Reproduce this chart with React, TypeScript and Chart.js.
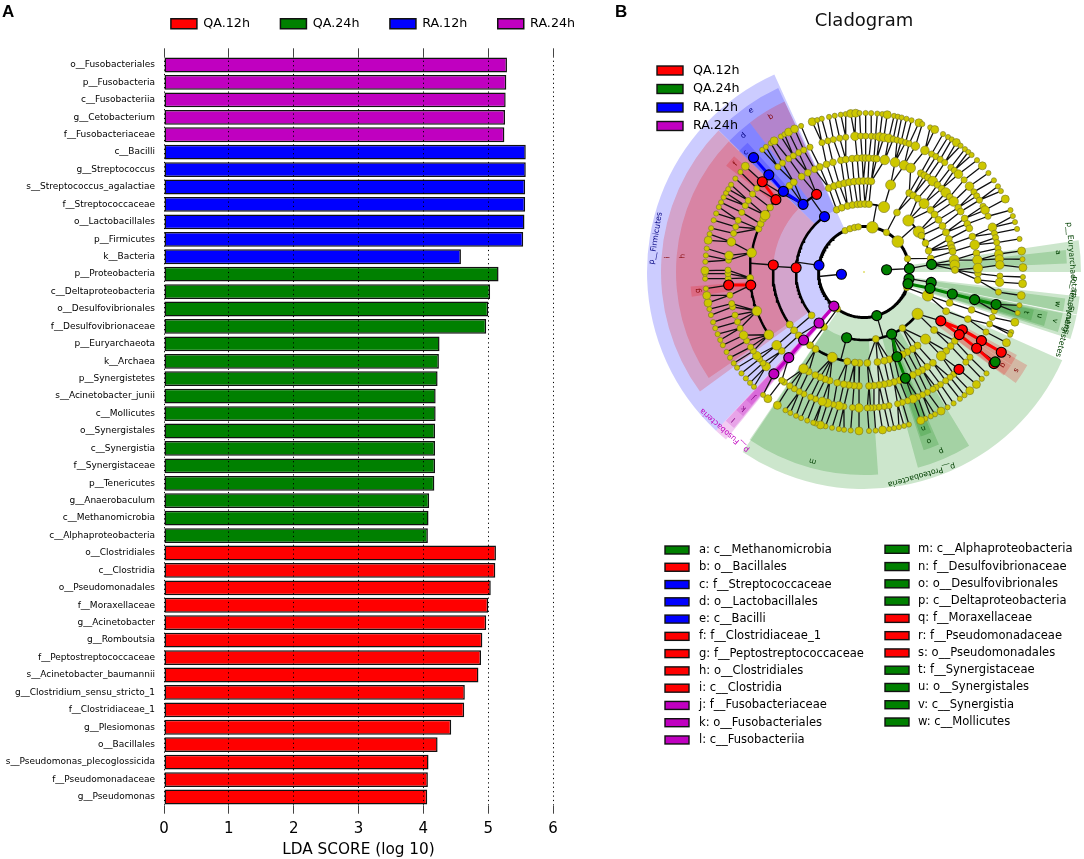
import React, { useEffect, useRef } from "react";
import { Chart, registerables } from "chart.js";

Chart.register(...registerables);

const FONT = "'DejaVu Sans'";
const RED = "#ff0000";
const GREEN = "#008000";
const BLUE = "#0000ff";
const MAG = "#c000c0";

/* ---------- Panel A values ---------- */
const ra24Labels = ["o__Fusobacteriales", "p__Fusobacteria", "c__Fusobacteriia", "g__Cetobacterium", "f__Fusobacteriaceae"];
const ra24Values = [5.29, 5.28, 5.27, 5.26, 5.25];
const ra12Labels = ["c__Bacilli", "g__Streptococcus", "s__Streptococcus_agalactiae", "f__Streptococcaceae", "o__Lactobacillales", "p__Firmicutes", "k__Bacteria"];
const ra12Values = [5.58, 5.58, 5.57, 5.57, 5.56, 5.54, 4.58];
const qa24Labels = ["p__Proteobacteria", "c__Deltaproteobacteria", "o__Desulfovibrionales", "f__Desulfovibrionaceae", "p__Euryarchaeota", "k__Archaea", "p__Synergistetes", "s__Acinetobacter_junii", "c__Mollicutes", "o__Synergistales", "c__Synergistia", "f__Synergistaceae", "p__Tenericutes", "g__Anaerobaculum", "c__Methanomicrobia", "c__Alphaproteobacteria"];
const qa24Values = [5.16, 5.03, 5.0, 4.97, 4.25, 4.24, 4.22, 4.19, 4.19, 4.18, 4.18, 4.18, 4.17, 4.09, 4.08, 4.07];
const qa12Labels = ["o__Clostridiales", "c__Clostridia", "o__Pseudomonadales", "f__Moraxellaceae", "g__Acinetobacter", "g__Romboutsia", "f__Peptostreptococcaceae", "s__Acinetobacter_baumannii", "g__Clostridium_sensu_stricto_1", "f__Clostridiaceae_1", "g__Plesiomonas", "o__Bacillales", "s__Pseudomonas_plecoglossicida", "f__Pseudomonadaceae", "g__Pseudomonas"];
const qa12Values = [5.12, 5.11, 5.04, 5.0, 4.97, 4.91, 4.89, 4.85, 4.64, 4.63, 4.43, 4.22, 4.08, 4.07, 4.06];

/* ---------- Panel B key ---------- */
const classNames = ["QA.12h", "QA.24h", "RA.12h", "RA.24h"];
const classColors = [RED, GREEN, BLUE, MAG];
const keyColumn1: [string, string][] = [
  ["a: c__Methanomicrobia", GREEN], ["b: o__Bacillales", RED], ["c: f__Streptococcaceae", BLUE], ["d: o__Lactobacillales", BLUE],
  ["e: c__Bacilli", BLUE], ["f: f__Clostridiaceae_1", RED], ["g: f__Peptostreptococcaceae", RED], ["h: o__Clostridiales", RED],
  ["i: c__Clostridia", RED], ["j: f__Fusobacteriaceae", MAG], ["k: o__Fusobacteriales", MAG], ["l: c__Fusobacteriia", MAG],
];
const keyColumn2: [string, string][] = [
  ["m: c__Alphaproteobacteria", GREEN], ["n: f__Desulfovibrionaceae", GREEN], ["o: o__Desulfovibrionales", GREEN], ["p: c__Deltaproteobacteria", GREEN],
  ["q: f__Moraxellaceae", RED], ["r: f__Pseudomonadaceae", RED], ["s: o__Pseudomonadales", RED], ["t: f__Synergistaceae", GREEN],
  ["u: o__Synergistales", GREEN], ["v: c__Synergistia", GREEN], ["w: c__Mollicutes", GREEN],
];

/* ---------- Cladogram: ring radius per taxonomic level (scale units) ---------- */
const ringRadius = [0, 22.7, 45.5, 68, 91, 114, 136, 159];
const wedgeOuter = { phylum: 217, class: 203, order: 188, family: 174 };

/* [from deg, to deg, inner ring level, colour] */
const phylumWedges: [number, number, number, string][] = [
  [133, 245.6, 2, "0,0,255"], [129.5, 133, 2, "192,0,192"], [24, 124, 2, "0,128,0"],
  [351.6, 360, 2, "0,128,0"], [6.5, 11.3, 2, "0,128,0"], [11.5, 18, 2, "0,128,0"],
];
const classWedges: [number, number, number, string][] = [
  [353.8, 357.6, 3, "0,128,0"], [224.3, 245, 3, "0,0,255"], [143.9, 224.2, 3, "235,0,0"], [129.8, 132.9, 3, "192,0,192"],
  [86, 124.3, 3, "0,128,0"], [58.8, 74.6, 3, "0,128,0"], [11.7, 17.2, 3, "0,128,0"], [7.5, 11.2, 3, "0,128,0"],
];
const orderWedges: [number, number, number, string][] = [
  [232.6, 245, 4, "235,0,0"], [224.2, 232.6, 4, "0,0,255"], [145.7, 224, 4, "235,0,0"], [130, 132.8, 4, "192,0,192"],
  [66.5, 71.5, 4, "0,128,0"], [29.7, 36.2, 4, "235,0,0"], [12.2, 16.7, 4, "0,128,0"],
];
const familyWedges: [number, number, number, string][] = [
  [224, 228, 5, "0,0,255"], [217.6, 221.7, 5, "235,0,0"], [171.8, 175.2, 5, "235,0,0"], [130.2, 132.6, 5, "192,0,192"],
  [67.2, 71, 5, "0,128,0"], [32.4, 36.5, 5, "235,0,0"], [28.5, 32.2, 5, "235,0,0"], [12.5, 16.2, 5, "0,128,0"],
];

/* [text, angle, radius, colour] */
const wedgeLetters: [string, number, number, string][] = [
  ["a", 354.2, 195, "#004000"], ["b", 239, 181, "#800000"], ["c", 225.3, 168, "#000080"], ["d", 228.5, 182, "#000080"],
  ["e", 235, 197, "#000080"], ["f", 220, 168, "#800000"], ["g", 173.6, 167, "#800000"], ["h", 185, 182, "#800000"],
  ["i", 184.2, 197, "#800000"], ["j", 131.4, 167, "#800080"], ["k", 131.4, 182, "#800080"], ["l", 131.4, 197, "#800080"],
  ["m", 105.2, 196, "#004000"], ["n", 69.2, 167, "#004000"], ["o", 69, 181, "#004000"], ["p", 66.7, 195, "#004000"],
  ["q", 33.9, 167, "#800000"], ["r", 30, 167, "#800000"], ["s", 32.9, 181, "#800000"], ["t", 14, 167, "#004000"],
  ["u", 14, 181, "#004000"], ["v", 14.4, 197, "#004000"], ["w", 9.4, 196, "#004000"],
];
const phylumLabels: [string, number, number, string][] = [
  ["p__Firmicutes", 189.2, 211, "#000080"], ["p__Fusobacteria", 131.4, 211, MAG], ["p__Proteobacteria", 74.2, 211, "#004000"],
  ["p__Euryarchaeota", 355.8, 208, "#004000"], ["p__Tenericutes", 9, 209, "#004000"], ["p__Synergistetes", 14.7, 209, "#004000"],
];

/* Yellow (non-discriminant) clades, by level: angles in degrees */
const ring2 = [20, 125.8, 245.5, 252, 258, 262.8, 280.6, 299.6, 318, 343];
const ring2Big = [280.6, 318];
const ring3 = [20.2, 38, 55.6, 80, 126, 140.4, 246.3, 250.9, 256, 260.3, 264.5, 267.2, 270.8, 274.2, 287.1, 299, 310.8, 323.7, 327.6, 334.8, 341.9, 348.4];
const ring3Big = [20.2, 38, 287.1, 310.8, 323.7];
const ring4 = [19.8, 25.5, 39.6, 47.5, 54, 57.8, 61.6, 64.9, 70.6, 73.9, 77.2, 81.5, 87.9, 92.8, 95.7, 100.6, 110.4, 122.2, 126.3, 135.8, 140.2, 144.7, 247.3, 250.8, 254.2, 257.5, 260.6, 263.7, 266.9, 269.6, 272.5, 274.6, 287, 299.8, 302.7, 306.2, 311.3, 317, 320.8, 325, 329.6, 334.2, 338.8, 342.4, 344.8, 347, 352.4, 355.6, 358.7];
const ring4Big = [47.5, 110.4, 287, 311.3, 352.4, 355.6];
const ring5 = [0.8, 4, 19.4, 24.4, 37.2, 40.5, 43.8, 47.4, 52.8, 56.3, 59.3, 61.7, 64.6, 71.9, 74.7, 77.3, 79.8, 82.4, 85, 87.5, 92.5, 95, 97.6, 100.2, 103.6, 107.5, 109.9, 112.6, 115.3, 119, 122, 136.2, 140, 146.6, 160, 177, 189.7, 202.3, 205, 207.8, 209.9, 214.5, 223.6, 229.2, 232, 236.8, 240.5, 244.3, 247.2, 250.8, 254.2, 258.3, 260.8, 264, 266.6, 269.1, 270.8, 272.5, 275, 276.4, 280.5, 285.8, 290.6, 294.2, 299.9, 301.9, 304, 307.1, 310.1, 313, 315.8, 318.8, 321.8, 325.7, 328, 332, 335, 337.5, 341.9, 346.2, 350.5, 354, 358];
const ring5Big = [47.4, 122, 140, 146.6, 160, 189.7, 209.9, 280.5, 285.8, 290.6, 294.2, 307.1, 315.8, 321.8, 346.2, 354, 358];
const ring6 = [1.7, 4.3, 8.5, 16.6, 19.5, 22.5, 26.2, 38.8, 41.5, 48.7, 50.7, 53.1, 55.8, 58, 59.6, 62.2, 64.5, 66.7, 68.9, 71.3, 73.6, 75.7, 79.4, 81.5, 83.7, 85.8, 87.2, 88.6, 92.1, 94.9, 98.5, 100.6, 103, 105.6, 107.9, 110.9, 113.1, 116.2, 118.4, 120.8, 123.1, 125.9, 127.2, 136, 138, 140.2, 142, 144.5, 146.5, 149.6, 152.3, 155.6, 158.5, 161.5, 165.1, 166.6, 170.2, 177.2, 179.3, 180.8, 185, 187, 192.8, 196.5, 199.4, 202.3, 206, 209.2, 211.7, 215, 218, 230.7, 233.2, 236.4, 238.7, 241.3, 243.7, 246.6, 252, 254.6, 257, 259.7, 262.3, 266.2, 268.6, 270.7, 273.1, 274.9, 276.6, 278.4, 280.5, 282.4, 284.1, 285.9, 287.8, 289.4, 292.2, 296.6, 299.8, 301.9, 304.1, 306.4, 309.7, 311.6, 314, 317.4, 320.9, 323.9, 326, 328.1, 331.1, 332.9, 335.8, 340.8, 343.5, 345.4, 347.5, 350, 352.4, 354.5, 357];
const ring6Big = [4.3, 68.9, 92.1, 100.6, 105.6, 107.9, 136, 142, 152.3, 187, 192.8, 266.2, 276.6, 278.4, 280.5, 292.2, 296.6, 314, 320.9, 332.9, 340.8, 352.4, 354.5, 357];
const ring7 = [1.8, 4.2, 8.5, 12.1, 14.9, 18.4, 22.2, 23.2, 26.4, 39.6, 42.2, 45, 48.3, 50.8, 52.9, 55.7, 58.3, 61, 63.5, 65.2, 67.3, 69.1, 73.6, 75.4, 77.3, 79.1, 80.9, 83.3, 85.8, 88.2, 91.8, 94.8, 97.2, 99.1, 101.6, 104, 105.9, 107.7, 108.6, 110.9, 113.3, 115.3, 117.6, 119.6, 123, 127.2, 129.4, 133.8, 135.8, 138, 140.4, 143, 145, 147.4, 149.8, 152.6, 154.7, 157, 159.3, 161.6, 164.3, 166.5, 168.8, 171.5, 174, 177.6, 179.4, 180.5, 183.7, 186, 188.5, 191.5, 193.8, 196, 199, 201.6, 204.1, 206, 208, 209.8, 211.4, 213.3, 216, 219, 221.7, 230.2, 231.9, 234.1, 235.6, 238.5, 240, 241.7, 244.1, 246.7, 251, 252.9, 254.6, 257.3, 259.4, 261.6, 263.4, 265.2, 267, 268.4, 270.6, 272.6, 274.8, 276.6, 278.4, 280.9, 282.3, 283.7, 285.5, 287.4, 290.2, 291.5, 294.6, 296.4, 299.8, 301.9, 303.5, 305.5, 307.4, 309.4, 311, 312.6, 315.3, 318.1, 321.5, 324.8, 327.4, 329.4, 332.7, 337.1, 339.4, 341.7, 344.3, 348, 352.4, 355.4, 358.4];
const ring7Big = [4.2, 8.5, 18.4, 26.4, 45, 48.3, 61, 69.1, 83.3, 91.8, 105.9, 123, 127.2, 168.8, 171.5, 180.5, 191.5, 221.7, 235.6, 241.7, 244.1, 251, 265.2, 267, 278.4, 290.2, 296.4, 305.5, 318.1, 332.7, 352.4, 358.4];

/* Coloured clades: [level, angle] */
const qa12Nodes: [number, number][] = [[3, 183.6], [4, 184.4], [4, 238.6], [5, 219.4], [6, 221.6], [5, 173.4], [6, 174.5], [4, 32.5], [5, 30.4], [6, 30.3], [7, 30.3], [5, 33.3], [6, 34.1], [7, 35.2], [6, 45.7]];
const qa24Nodes: [number, number][] = [[1, 354.3], [2, 355.7], [2, 8.5], [2, 15], [2, 73.7], [3, 353.6], [3, 8.8], [3, 13.9], [4, 14], [5, 14], [6, 13.8], [3, 66], [3, 104.8], [4, 68.7], [5, 68.7], [7, 34.4]];
const ra12Nodes: [number, number][] = [[1, 174.3], [2, 188.4], [3, 234.5], [4, 228], [5, 225], [6, 225.6], [7, 226]];
const ra24Nodes: [number, number][] = [[2, 131.4], [3, 131.4], [4, 131.6], [5, 131.3], [6, 131.5]];

/* Coloured branches */
const qa12Paths: [number, number][][] = [
  [[5, 219.4], [6, 221.6]], [[5, 173.4], [6, 174.5]],
  [[4, 32.5], [5, 30.4], [6, 30.3], [7, 30.3]], [[4, 32.5], [5, 33.3], [6, 34.1], [7, 35.2]],
];
const qa24Paths: [number, number][][] = [
  [[2, 15], [3, 13.9], [4, 14], [5, 14], [6, 13.8]], [[3, 66], [4, 68.7], [5, 68.7]],
];
const ra12Paths: [number, number][][] = [[[4, 228], [5, 225], [6, 225.6], [7, 226]]];
const ra24Paths: [number, number][][] = [[[2, 131.4], [3, 131.4], [4, 131.6], [5, 131.3], [6, 131.5]]];

/* Thick sibling arcs: [level, from, to, width, parent angle] */
const siblingArcs: [number, number, number, number, number][] = [
  [2, 17, 343, 3, 174.3],
  [3, 140.4, 234.5, 2.6, 188.4],
  [3, 38, 104.8, 2.6, 73.7],
  [3, 246.3, 287.1, 1.8, 280.6],
  [3, 310.8, 341.9, 1.8, 318],
  [4, 144.7, 184.4, 2.6, 183.6],
  [4, 92.8, 122.2, 2.6, 104.8],
  [4, 228, 238.6, 2.4, 234.5],
  [5, 146.6, 219.4, 2.4, 184.4],
];

const extraEdges: [number, number, number, number][] = [[1, 354.3, 2, 355.7], [2, 355.7, 3, 353.6]];

const pt = (level: number, angle: number) => {
  const r = ringRadius[level];
  const a = (angle * Math.PI) / 180;
  return { x: r * Math.cos(a), y: r * Math.sin(a) };
};
const GAP = { x: NaN, y: NaN };

const colouredNodes = [...qa12Nodes, ...qa24Nodes, ...ra12Nodes, ...ra24Nodes];
const yellowByLevel: Record<number, number[]> = { 2: ring2, 3: ring3, 4: ring4, 5: ring5, 6: ring6, 7: ring7 };
const bigByLevel: Record<number, number[]> = { 2: ring2Big, 3: ring3Big, 4: ring4Big, 5: ring5Big, 6: ring6Big, 7: ring7Big };
const smallRadius: Record<number, number> = { 2: 3.2, 3: 3.4, 4: 3.5, 5: 3.4, 6: 3.1, 7: 2.6 };
const bigRadius: Record<number, number> = { 2: 5.8, 3: 5.6, 4: 5, 5: 4.8, 6: 4.3, 7: 4 };

const anglesAt = (level: number) => [...(yellowByLevel[level] || []), ...colouredNodes.filter((n) => n[0] === level).map((n) => n[1])];
const angDist = (a: number, b: number) => {
  const d = Math.abs(a - b) % 360;
  return d > 180 ? 360 - d : d;
};

function buildEdges() {
  const out: { x: number; y: number }[] = [];
  for (let level = 3; level <= 7; level++) {
    const parents = anglesAt(level - 1);
    for (const a of anglesAt(level)) {
      if (siblingArcs.some((s) => s[0] === level && a >= s[1] && a <= s[2])) continue;
      let best = parents[0];
      for (const p of parents) if (angDist(p, a) < angDist(best, a)) best = p;
      out.push(pt(level - 1, best), pt(level, a), GAP);
    }
  }
  for (const e of extraEdges) out.push(pt(e[0], e[1]), pt(e[2], e[3]), GAP);
  for (const s of siblingArcs) out.push(pt(s[0] - 1, s[4]), pt(s[0], s[4]), GAP);
  return out;
}
function arcPoints(level: number, from: number, to: number) {
  const pts = [];
  for (let a = from; a < to; a += 1.5) pts.push(pt(level, a));
  pts.push(pt(level, to));
  return pts;
}
const pathPoints = (paths: [number, number][][]) => paths.flatMap((p) => [...p.map((n) => pt(n[0], n[1])), GAP]);
const lineDs = (data: any[], color: string, width: number, order: number) => ({
  type: "scatter" as const, data, showLine: true, borderColor: color, borderWidth: width, pointRadius: 0,
  spanGaps: false, order, clip: false, borderCapStyle: "round" as const, tension: 0,
});
const markerDs = (nodes: [number, number][], color: string, order: number) => ({
  type: "scatter" as const, data: nodes.map((n) => pt(n[0], n[1])), pointRadius: 5, pointBackgroundColor: color,
  pointBorderColor: "#000", pointBorderWidth: 1.1, order, clip: false, showLine: false,
});

const wedgePlugin = {
  id: "wedges",
  beforeDatasetsDraw(chart: any) {
    const { ctx, scales } = chart;
    const cx = scales.x.getPixelForValue(0);
    const cy = scales.y.getPixelForValue(0);
    const u = (v: number) => scales.x.getPixelForValue(v) - cx;
    const groups: [[number, number, number, string][], number][] = [
      [phylumWedges, wedgeOuter.phylum], [classWedges, wedgeOuter.class], [orderWedges, wedgeOuter.order], [familyWedges, wedgeOuter.family],
    ];
    for (const [list, outer] of groups) {
      for (const [from, to, level, rgb] of list) {
        ctx.beginPath();
        ctx.arc(cx, cy, u(outer), (from * Math.PI) / 180, (to * Math.PI) / 180);
        ctx.arc(cx, cy, u(ringRadius[level]), (to * Math.PI) / 180, (from * Math.PI) / 180, true);
        ctx.closePath();
        ctx.fillStyle = `rgba(${rgb},0.2)`;
        ctx.fill();
      }
    }
    ctx.textAlign = "center";
    ctx.textBaseline = "middle";
    const put = (list: [string, number, number, string][], size: number) => {
      for (const [txt, ang, r, col] of list) {
        const a = (ang * Math.PI) / 180;
        ctx.save();
        ctx.translate(cx + u(r) * Math.cos(a), cy + u(r) * Math.sin(a));
        ctx.rotate(a + Math.PI / 2);
        ctx.font = `${size}px ${FONT}`;
        ctx.fillStyle = col;
        ctx.fillText(txt, 0, 0);
        ctx.restore();
      }
    };
    put(wedgeLetters, 7.5);
    put(phylumLabels, 7.8);
  },
  afterDatasetsDraw(chart: any) {
    const { ctx, canvas } = chart;
    const left = canvas.offsetLeft;
    ctx.textBaseline = "middle";
    ctx.textAlign = "left";
    const swatch = (x: number, y: number, w: number, h: number, color: string) => {
      ctx.fillStyle = color;
      ctx.strokeStyle = "#111";
      ctx.lineWidth = 1.4;
      ctx.fillRect(x, y - h / 2, w, h);
      ctx.strokeRect(x, y - h / 2, w, h);
    };
    classNames.forEach((name, i) => {
      const y = 70.5 + i * 18.5;
      swatch(657 - left, y, 26, 9, classColors[i]);
      ctx.font = `12.7px ${FONT}`;
      ctx.fillStyle = "#000";
      ctx.fillText(name, 693 - left, y);
    });
    const column = (items: [string, string][], swX: number, txtX: number, y0: number) => {
      items.forEach(([text, color], i) => {
        const y = y0 + i * 17.27;
        swatch(swX - left, y, 24, 8, color);
        ctx.font = `11.55px ${FONT}`;
        ctx.fillStyle = "#000";
        ctx.fillText(text, txtX - left, y);
      });
    };
    column(keyColumn1, 665, 699, 550);
    column(keyColumn2, 885, 918, 549.3);
  },
};

const panelLetters = {
  id: "letters",
  afterDraw(chart: any) {
    const { ctx } = chart;
    ctx.save();
    ctx.font = `bold 17px 'Liberation Sans'`;
    ctx.fillStyle = "#000";
    ctx.textAlign = "left";
    ctx.textBaseline = "middle";
    ctx.fillText("A", 2, 12);
    ctx.fillText("B", 615, 12);
    ctx.restore();
  },
};

export default function App() {
  const aRef = useRef<HTMLCanvasElement>(null);
  const bRef = useRef<HTMLCanvasElement>(null);

  useEffect(() => {
    const labels = [...ra24Labels, ...ra12Labels, ...qa24Labels, ...qa12Labels];
    const fill = (before: number, vals: number[]) => {
      const arr: (number | null)[] = new Array(labels.length).fill(null);
      vals.forEach((v, i) => (arr[before + i] = v));
      return arr;
    };
    const n1 = ra24Values.length;
    const n2 = n1 + ra12Values.length;
    const n3 = n2 + qa24Values.length;
    const bar = (label: string, color: string, data: (number | null)[]) => ({
      label, data, backgroundColor: color, borderColor: "#111", borderWidth: 1.5, borderSkipped: false,
      grouped: false, barPercentage: 0.85, categoryPercentage: 1,
    });
    const chartA = new Chart(aRef.current!, {
      type: "bar",
      data: {
        labels,
        datasets: [
          bar("QA.12h", RED, fill(n3, qa12Values)),
          bar("QA.24h", GREEN, fill(n2, qa24Values)),
          bar("RA.12h", BLUE, fill(n1, ra12Values)),
          bar("RA.24h", MAG, fill(0, ra24Values)),
        ],
      },
      options: {
        indexAxis: "y",
        responsive: false,
        animation: false,
        layout: { autoPadding: false, padding: { left: 0, top: -13, right: 0, bottom: 0 } },
        plugins: {
          tooltip: { enabled: false },
          title: { display: false },
          legend: {
            display: true,
            position: "top",
            maxHeight: 50,
            labels: { boxWidth: 26, boxHeight: 10, padding: 30.5, color: "#000", font: { family: FONT, size: 12.7 } },
          },
        },
        scales: {
          x: {
            type: "linear", min: 0, max: 6, position: "bottom",
            grid: { display: true, color: "#000", lineWidth: 1, z: 1, tickColor: "#444", tickLength: 8, tickBorderDash: [] } as any,
            border: { display: false, dash: [1.2, 3.2] },
            ticks: { stepSize: 1, color: "#000", padding: 6, font: { family: FONT, size: 15 }, maxRotation: 0 },
            title: { display: true, text: "LDA SCORE (log 10)", color: "#000", font: { family: FONT, size: 15.3 }, padding: { top: 2, bottom: 0 } },
            afterFit: (s: any) => { s.height = 53.3; },
          },
          x2: {
            type: "linear", min: 0, max: 6, position: "top",
            grid: { display: true, drawOnChartArea: false, tickColor: "#444", tickLength: 8 },
            border: { display: false },
            ticks: { stepSize: 1, display: false },
            afterFit: (s: any) => { s.height = 19.3; },
          },
          y: {
            type: "category", offset: true, position: "left",
            grid: { display: false },
            border: { display: false },
            ticks: { autoSkip: false, color: "#000", padding: 1, font: { family: FONT, size: 9 } },
            afterFit: (s: any) => { s.width = 164; },
          },
          yR: {
            type: "category", position: "right", display: true,
            grid: { display: false }, border: { display: false }, ticks: { display: false },
            afterFit: (s: any) => { s.width = 193; },
          },
        },
      } as any,
      plugins: [panelLetters],
    });

    const yellow = [2, 3, 4, 5, 6, 7].flatMap((level) =>
      yellowByLevel[level].map((a) => ({ ...pt(level, a), big: bigByLevel[level].includes(a), level })),
    );
    const chartB = new Chart(bRef.current!, {
      type: "scatter",
      data: {
        datasets: [
          lineDs(buildEdges(), "#111", 1.3, 9),
          ...siblingArcs.map((s) => lineDs(arcPoints(s[0], s[1], s[2]), "#000", s[3], 8)),
          lineDs(pathPoints(qa12Paths), RED, 3, 7),
          lineDs(pathPoints(qa24Paths), GREEN, 3, 7),
          lineDs(pathPoints(ra12Paths), BLUE, 3, 7),
          lineDs(pathPoints(ra24Paths), MAG, 3.4, 7),
          {
            type: "scatter" as const,
            data: [{ x: 0, y: 0 }],
            pointRadius: 0.8, pointBackgroundColor: "#cbc600", pointBorderWidth: 0, order: 6,
          },
          {
            type: "scatter" as const,
            data: yellow,
            pointRadius: yellow.map((p) => (p.big ? bigRadius[p.level] : smallRadius[p.level])),
            pointBackgroundColor: "#cdc700",
            pointBorderColor: "#77762a",
            pointBorderWidth: 0.6,
            order: 5, clip: false,
          },
          markerDs(qa12Nodes, RED, 3),
          markerDs(qa24Nodes, GREEN, 2),
          markerDs(ra12Nodes, BLUE, 3),
          markerDs(ra24Nodes, MAG, 3),
        ] as any,
      },
      options: {
        responsive: false,
        animation: false,
        layout: { autoPadding: false, padding: 0 },
        plugins: {
          legend: { display: false },
          tooltip: { enabled: false },
          title: {
            display: true, text: "Cladogram", color: "#111",
            font: { family: FONT, size: 18, weight: "normal" },
            padding: { top: 11, bottom: 7.4 },
          },
        },
        scales: {
          x: { type: "linear", min: -220, max: 220, display: false },
          y: { type: "linear", min: -232, max: 587, reverse: true, display: false },
        },
      } as any,
      plugins: [wedgePlugin],
    });
    return () => {
      chartA.destroy();
      chartB.destroy();
    };
  }, []);

  return (
    <div style={{ position: "absolute", left: 0, top: 0, width: 1084, height: 859, overflow: "hidden", background: "#fff" }}>
      <canvas ref={aRef} width={746} height={859} style={{ position: "absolute", left: 0, top: 0, display: "block" }} />
      <canvas ref={bRef} width={440} height={859} style={{ position: "absolute", left: 644, top: 0, display: "block" }} />
    </div>
  );
}
